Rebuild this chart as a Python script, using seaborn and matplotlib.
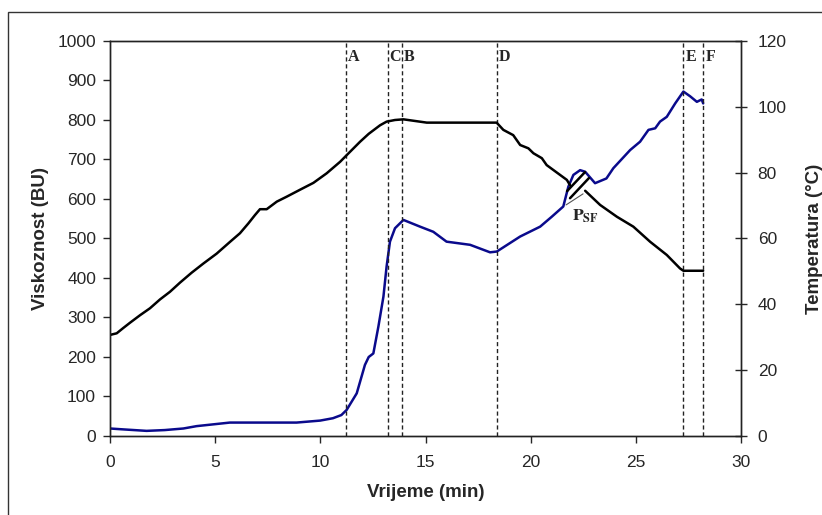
import seaborn as sns
import matplotlib.pyplot as plt
import pandas as pd
import numpy as np
from matplotlib.patches import Rectangle

# viscosity curve (left axis, BU)
visc_time = [0.0, 0.55, 1.74, 2.6, 3.49, 4.12, 5.0, 5.7, 8.87, 9.99, 10.6, 11.0, 11.25,
             11.73, 12.12, 12.3, 12.52, 12.76, 13.0, 13.15, 13.31, 13.55, 13.95, 14.74,
             15.37, 16.0, 17.12, 18.07, 18.39, 19.5, 20.45, 21.0, 21.55, 21.79, 22.03,
             22.35, 22.59, 23.06, 23.6, 23.93, 24.73, 25.2, 25.6, 25.92, 26.15, 26.47,
             26.87, 27.26, 27.58, 27.9, 28.13, 28.2]
visc_bu = [19, 17, 13, 15, 19, 25, 30, 34, 34, 39, 45, 53, 66,
           108, 180, 200, 209, 277, 353, 429, 492, 526, 547, 530,
           517, 492, 484, 465, 467, 505, 530, 555, 581, 631, 661,
           673, 669, 640, 652, 678, 724, 745, 775, 779, 796, 808,
           842, 872, 860, 846, 852, 842]

# temperature curve (right axis, degC), two segments with a break near P_SF
temp_time = [0.0, 0.32, 0.63, 0.95, 1.43, 1.9, 2.38, 2.85, 3.33, 3.88, 4.44, 5.07, 5.71,
             6.18, 6.58, 6.89, 7.13, 7.45, 7.93, 8.4, 9.03, 9.67, 10.3, 10.94, 11.25,
             11.89, 12.3, 12.84, 13.15, 13.55, 13.95, 15.06, 18.38, 18.7, 19.17, 19.5,
             19.89, 20.13, 20.53, 20.76, 21.4, 21.72, 21.87,
             22.59, 23.3, 24.1, 24.88, 25.68, 26.47, 27.1, 27.26, 28.2]
temp_c = [30.7, 31.2, 32.8, 34.4, 36.7, 38.8, 41.5, 43.8, 46.6, 49.6, 52.4, 55.4, 59.0,
          61.6, 64.6, 67.1, 68.9, 68.9, 71.2, 72.7, 74.8, 76.9, 79.8, 83.3, 85.3,
          89.4, 91.8, 94.4, 95.5, 96.0, 96.2, 95.2, 95.2, 93.0, 91.4, 88.4,
          87.4, 85.9, 84.4, 82.3, 79.3, 77.8, 76.2,
          74.5, 70.2, 66.6, 63.6, 59.0, 55.0, 50.9, 50.2, 50.2]
temp_segment = [1] * 43 + [2] * 9

# characteristic points
point_labels = ["A", "C", "B", "D", "E", "F"]
point_times = [11.23, 13.2, 13.87, 18.38, 27.25, 28.2]

visc_df = pd.DataFrame({"t": visc_time, "bu": visc_bu})
temp_df = pd.DataFrame({"t": temp_time, "c": temp_c, "seg": temp_segment})

sns.set_style("white")
plt.rcParams["font.family"] = ["Liberation Sans", "DejaVu Sans"]
plt.rcParams["mathtext.fontset"] = "stix"

fig = plt.figure(figsize=(8.22, 5.15), dpi=100)
ax1 = fig.add_axes([0.1338, 0.1534, 0.9015 - 0.1338, 0.9204 - 0.1534])
ax2 = ax1.twinx()

sns.lineplot(data=visc_df, x="t", y="bu", ax=ax1, color="#0a0a8c", linewidth=1.8)
sns.lineplot(data=temp_df, x="t", y="c", units="seg", estimator=None, ax=ax2,
             color="black", linewidth=1.8)

for t in point_times:
    ax1.axvline(t, color="#222222", linestyle=(0, (3, 2)), linewidth=1.0)
for lab, t in zip(point_labels, point_times):
    ax1.text(t + 0.1, 0.96, lab, transform=ax1.get_xaxis_transform(),
             family="Liberation Serif", fontweight="bold", fontsize=11.5,
             ha="left", va="center")

# P_SF break mark
ax1.plot([21.73, 22.58], [620, 668], color="black", linewidth=1.8)
ax1.plot([21.87, 22.77], [602, 653], color="black", linewidth=1.8)
ax1.plot([21.68, 22.49], [585, 613], color="#555555", linewidth=0.8)
ax1.text(21.95, 545, r"$\mathbf{P}_{\mathbf{SF}}$", fontsize=12.5, ha="left", va="baseline")

ax1.set_xlim(0, 30)
ax1.set_ylim(0, 1000)
ax2.set_ylim(0, 120)
ax1.set_xticks(range(0, 31, 5))
ax1.set_yticks(range(0, 1001, 100))
ax2.set_yticks(range(0, 121, 20))

ax1.set_xlabel("Vrijeme (min)", fontsize=13.5, fontweight="bold", labelpad=10)
ax1.set_ylabel("Viskoznost (BU)", fontsize=13.5, fontweight="bold", labelpad=6)
ax2.set_ylabel("Temperatura (°C)", fontsize=13.5, fontweight="bold", labelpad=14)

ax1.tick_params(axis="x", direction="out", length=5, width=1, labelsize=12.5, pad=9,
                bottom=True)
ax1.tick_params(axis="y", direction="out", length=5, width=1, labelsize=12.5, pad=5,
                left=True)
ax2.tick_params(axis="y", direction="inout", length=8, width=1, labelsize=12.5, pad=8,
                right=True)

for ax in (ax1, ax2):
    for s in ax.spines.values():
        s.set_color("#222222")
        s.set_linewidth(1.0)

fig.add_artist(Rectangle((8 / 822, -0.02), 1.1, 1 - 12 / 515 + 0.02,
                         transform=fig.transFigure, fill=False,
                         edgecolor="#333333", linewidth=1.0))

plt.savefig("out.png", format="png", dpi=100)
